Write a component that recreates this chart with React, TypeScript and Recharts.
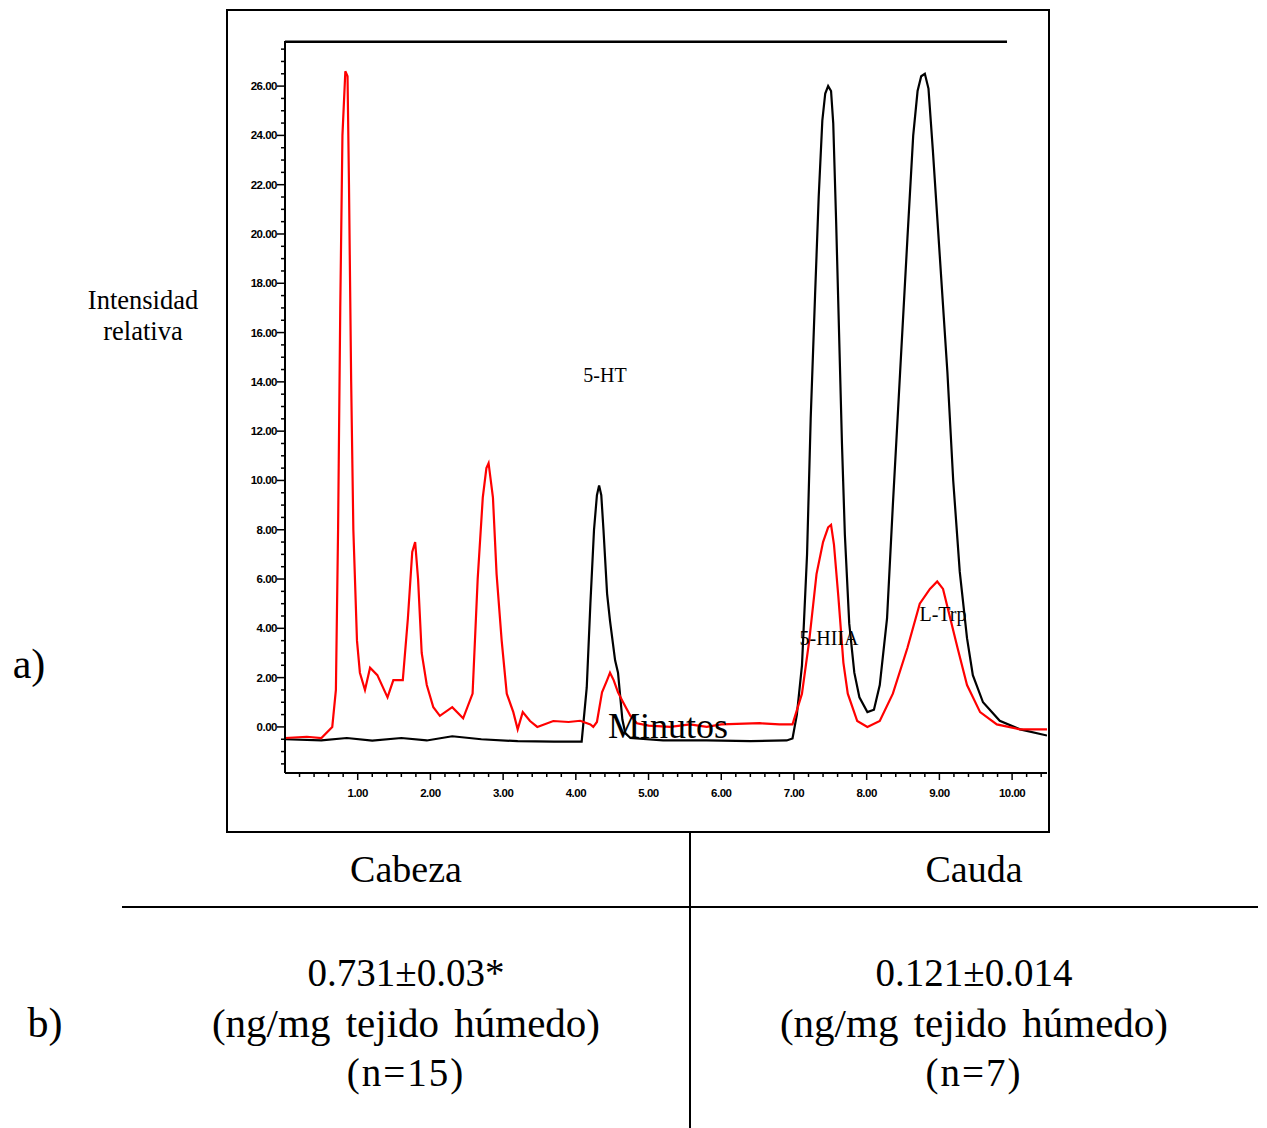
import { LineChart, Line, XAxis, YAxis, ReferenceLine } from 'recharts';

// black trace (standard), minutes vs relative intensity
const blackTrace = [
  { t: 0, v: -0.5 }, { t: 0.5, v: -0.55 }, { t: 0.85, v: -0.45 }, { t: 1.2, v: -0.56 },
  { t: 1.6, v: -0.45 }, { t: 1.95, v: -0.55 }, { t: 2.3, v: -0.38 }, { t: 2.7, v: -0.5 },
  { t: 3.2, v: -0.58 }, { t: 3.7, v: -0.6 }, { t: 4.08, v: -0.6 }, { t: 4.15, v: 1.6 },
  { t: 4.2, v: 5.0 }, { t: 4.25, v: 8.0 }, { t: 4.29, v: 9.4 }, { t: 4.32, v: 9.8 },
  { t: 4.35, v: 9.4 }, { t: 4.38, v: 8.0 }, { t: 4.43, v: 5.4 }, { t: 4.47, v: 4.3 },
  { t: 4.54, v: 2.7 }, { t: 4.58, v: 2.2 }, { t: 4.64, v: 0.3 }, { t: 4.68, v: -0.25 },
  { t: 4.75, v: -0.45 }, { t: 5.2, v: -0.55 }, { t: 5.8, v: -0.55 }, { t: 6.4, v: -0.58 },
  { t: 6.9, v: -0.55 }, { t: 6.98, v: -0.47 }, { t: 7.04, v: 0.5 }, { t: 7.11, v: 2.5 },
  { t: 7.18, v: 7.0 }, { t: 7.23, v: 12.5 }, { t: 7.29, v: 17.5 }, { t: 7.34, v: 21.5 },
  { t: 7.39, v: 24.6 }, { t: 7.43, v: 25.7 }, { t: 7.47, v: 26.0 }, { t: 7.51, v: 25.8 },
  { t: 7.54, v: 24.5 }, { t: 7.58, v: 20.5 }, { t: 7.62, v: 16.0 }, { t: 7.66, v: 11.5 },
  { t: 7.7, v: 7.8 }, { t: 7.76, v: 4.2 }, { t: 7.83, v: 2.2 }, { t: 7.9, v: 1.2 },
  { t: 8.01, v: 0.6 }, { t: 8.1, v: 0.7 }, { t: 8.18, v: 1.7 }, { t: 8.28, v: 4.4 },
  { t: 8.36, v: 9.0 }, { t: 8.46, v: 14.4 }, { t: 8.56, v: 19.8 }, { t: 8.64, v: 24.0 },
  { t: 8.7, v: 25.8 }, { t: 8.75, v: 26.4 }, { t: 8.8, v: 26.5 }, { t: 8.85, v: 25.9 },
  { t: 8.91, v: 23.4 }, { t: 9.01, v: 18.9 }, { t: 9.11, v: 14.4 }, { t: 9.19, v: 10.0 },
  { t: 9.28, v: 6.3 }, { t: 9.38, v: 3.6 }, { t: 9.46, v: 2.1 }, { t: 9.6, v: 1.0 },
  { t: 9.83, v: 0.25 }, { t: 10.11, v: -0.1 }, { t: 10.48, v: -0.35 },
];

// red trace (sample)
const redTrace = [
  { t: 0, v: -0.45 }, { t: 0.3, v: -0.4 }, { t: 0.5, v: -0.45 }, { t: 0.65, v: 0.0 },
  { t: 0.7, v: 1.5 }, { t: 0.73, v: 8.0 }, { t: 0.76, v: 17.0 }, { t: 0.79, v: 24.0 },
  { t: 0.83, v: 26.6 }, { t: 0.86, v: 26.4 }, { t: 0.88, v: 22.0 }, { t: 0.91, v: 14.0 },
  { t: 0.94, v: 8.0 }, { t: 0.99, v: 3.5 }, { t: 1.03, v: 2.2 }, { t: 1.1, v: 1.5 },
  { t: 1.17, v: 2.4 }, { t: 1.27, v: 2.1 }, { t: 1.41, v: 1.2 }, { t: 1.49, v: 1.9 },
  { t: 1.62, v: 1.9 }, { t: 1.69, v: 4.4 }, { t: 1.75, v: 7.1 }, { t: 1.79, v: 7.5 },
  { t: 1.83, v: 6.0 }, { t: 1.88, v: 3.0 }, { t: 1.95, v: 1.7 }, { t: 2.04, v: 0.8 },
  { t: 2.13, v: 0.45 }, { t: 2.3, v: 0.8 }, { t: 2.45, v: 0.35 }, { t: 2.58, v: 1.35 },
  { t: 2.65, v: 6.0 }, { t: 2.72, v: 9.3 }, { t: 2.77, v: 10.5 }, { t: 2.8, v: 10.7 },
  { t: 2.86, v: 9.3 }, { t: 2.91, v: 6.2 }, { t: 2.98, v: 3.5 }, { t: 3.05, v: 1.35 },
  { t: 3.14, v: 0.6 }, { t: 3.2, v: -0.1 }, { t: 3.27, v: 0.6 }, { t: 3.37, v: 0.24 },
  { t: 3.47, v: 0.0 }, { t: 3.69, v: 0.24 }, { t: 3.9, v: 0.2 }, { t: 4.06, v: 0.25 },
  { t: 4.2, v: 0.1 }, { t: 4.24, v: 0.0 }, { t: 4.29, v: 0.2 }, { t: 4.36, v: 1.4 },
  { t: 4.43, v: 1.9 }, { t: 4.47, v: 2.2 }, { t: 4.52, v: 1.9 }, { t: 4.58, v: 1.4 },
  { t: 4.65, v: 1.0 }, { t: 4.75, v: 0.45 }, { t: 4.84, v: 0.15 }, { t: 5.0, v: 0.05 },
  { t: 5.3, v: 0.0 }, { t: 5.57, v: 0.1 }, { t: 5.8, v: 0.0 }, { t: 6.0, v: 0.1 },
  { t: 6.53, v: 0.15 }, { t: 6.8, v: 0.1 }, { t: 6.98, v: 0.1 }, { t: 7.11, v: 1.35 },
  { t: 7.21, v: 3.5 }, { t: 7.31, v: 6.2 }, { t: 7.4, v: 7.5 }, { t: 7.47, v: 8.1 },
  { t: 7.51, v: 8.2 }, { t: 7.55, v: 7.4 }, { t: 7.61, v: 5.3 }, { t: 7.68, v: 2.6 },
  { t: 7.74, v: 1.35 }, { t: 7.87, v: 0.24 }, { t: 8.01, v: 0.0 }, { t: 8.18, v: 0.24 },
  { t: 8.36, v: 1.35 }, { t: 8.56, v: 3.2 }, { t: 8.73, v: 5.0 }, { t: 8.87, v: 5.6 },
  { t: 8.97, v: 5.9 }, { t: 9.05, v: 5.6 }, { t: 9.15, v: 4.4 }, { t: 9.25, v: 3.2 },
  { t: 9.38, v: 1.7 }, { t: 9.56, v: 0.6 }, { t: 9.79, v: 0.1 }, { t: 10.11, v: -0.1 },
  { t: 10.48, v: -0.1 },
];

const xMajor = [1, 2, 3, 4, 5, 6, 7, 8, 9, 10];
const yMajor = [0, 2, 4, 6, 8, 10, 12, 14, 16, 18, 20, 22, 24, 26];
const xMinor = Array.from({ length: 52 }, (_, i) => Math.round((i + 1) * 2) / 10);
const yMinor = Array.from({ length: 59 }, (_, i) => -1.5 + i * 0.5);

const peakLabels = [
  { text: '5-HT', x: 605, y: 375 },
  { text: '5-HIIA', x: 829, y: 638 },
  { text: 'L-Trp', x: 943, y: 614 },
];

const tableCols = [
  { head: 'Cabeza', value: '0.731±0.03*', unit: '(ng/mg tejido húmedo)', n: '(n=15)', x: 406 },
  { head: 'Cauda', value: '0.121±0.014', unit: '(ng/mg tejido húmedo)', n: '(n=7)', x: 974 },
];

const serif = '"Liberation Serif", "Times New Roman", serif';
const tickFont = '"Liberation Sans", Arial, sans-serif';

const isMajor = (v: number, list: number[]) => list.some((m) => Math.abs(m - v) < 1e-6);

function XTick(props: any) {
  const { x, y, payload } = props;
  const major = isMajor(payload.value, xMajor);
  return (
    <g>
      <line x1={x} x2={x} y1={y} y2={y + (major ? 7 : 4)} stroke="#000" strokeWidth={1.5} />
      {major && (
        <text x={x} y={y + 24} textAnchor="middle" fontFamily={tickFont} fontWeight="bold"
          fontSize={11.5} letterSpacing={-0.5} fill="#000">
          {payload.value.toFixed(2)}
        </text>
      )}
    </g>
  );
}

function YTick(props: any) {
  const { x, y, payload } = props;
  const major = isMajor(payload.value, yMajor);
  return (
    <g>
      <line x1={x - (major ? 8 : 4)} x2={x} y1={y} y2={y} stroke="#000" strokeWidth={1.5} />
      {major && (
        <text x={x - 8} y={y + 4} textAnchor="end" fontFamily={tickFont} fontWeight="bold"
          fontSize={11.5} letterSpacing={-0.5} fill="#000">
          {payload.value.toFixed(2)}
        </text>
      )}
    </g>
  );
}

const abs = (x: number, y: number, extra: any = {}) => ({
  position: 'absolute' as const,
  left: x,
  top: y,
  transform: 'translate(-50%, -50%)',
  whiteSpace: 'nowrap' as const,
  fontFamily: serif,
  color: '#000',
  lineHeight: 1,
  ...extra,
});

export default function App() {
  const xTicks = [...xMinor, ...xMajor].sort((a, b) => a - b).filter((v, i, a) => i === 0 || Math.abs(v - a[i - 1]) > 1e-6);
  const yTicks = [...yMinor, ...yMajor].sort((a, b) => a - b).filter((v, i, a) => i === 0 || Math.abs(v - a[i - 1]) > 1e-6);
  return (
    <div style={{ position: 'absolute', left: 0, top: 0, width: 1267, height: 1128, background: '#fff' }}>
      {/* frame around the chromatogram */}
      <div style={{ position: 'absolute', left: 226, top: 9, width: 820, height: 820, border: '2px solid #000' }} />
      <div style={{ position: 'absolute', left: 0, top: 0 }}>
        <LineChart width={1100} height={830} margin={{ top: 41, right: 53, bottom: 27, left: 225 }}>
          <XAxis type="number" dataKey="t" domain={[0, 10.48]} ticks={xTicks} interval={0}
            allowDataOverflow height={30} tickSize={0} tickMargin={0} tick={<XTick />}
            axisLine={{ stroke: '#000', strokeWidth: 2 }} tickLine={false} />
          <YAxis type="number" dataKey="v" domain={[-1.87, 27.83]} ticks={yTicks} interval={0}
            allowDataOverflow width={60} tickSize={0} tickMargin={0} tick={<YTick />}
            axisLine={{ stroke: '#000', strokeWidth: 2 }} tickLine={false} />
          <ReferenceLine segment={[{ x: 0, y: 27.8 }, { x: 9.93, y: 27.8 }]} stroke="#000" strokeWidth={2.5} ifOverflow="visible" />
          <Line data={blackTrace} dataKey="v" type="linear" stroke="#000" strokeWidth={2.2}
            dot={false} isAnimationActive={false} />
          <Line data={redTrace} dataKey="v" type="linear" stroke="#ff0000" strokeWidth={2.2}
            dot={false} isAnimationActive={false} />
        </LineChart>
      </div>

      {peakLabels.map((p) => (
        <div key={p.text} style={abs(p.x, p.y, { fontSize: 20 })}>{p.text}</div>
      ))}
      <div style={abs(668, 726, { fontSize: 36 })}>Minutos</div>

      <div style={abs(143, 300, { fontSize: 26.5 })}>Intensidad</div>
      <div style={abs(143, 331, { fontSize: 26.5 })}>relativa</div>
      <div style={abs(29, 664, { fontSize: 42 })}>a)</div>
      <div style={abs(45, 1023, { fontSize: 42 })}>b)</div>

      {/* table */}
      <div style={{ position: 'absolute', left: 689, top: 832, width: 2, height: 296, background: '#000' }} />
      <div style={{ position: 'absolute', left: 122, top: 906, width: 1136, height: 2, background: '#000' }} />
      {tableCols.map((c) => (
        <div key={c.head}>
          <div style={abs(c.x, 869, { fontSize: 38 })}>{c.head}</div>
          <div style={abs(c.x, 972, { fontSize: 39 })}>{c.value}</div>
          <div style={abs(c.x, 1023, { fontSize: 41, wordSpacing: 5 })}>{c.unit}</div>
          <div style={abs(c.x, 1072, { fontSize: 39, letterSpacing: 2 })}>{c.n}</div>
        </div>
      ))}
    </div>
  );
}
